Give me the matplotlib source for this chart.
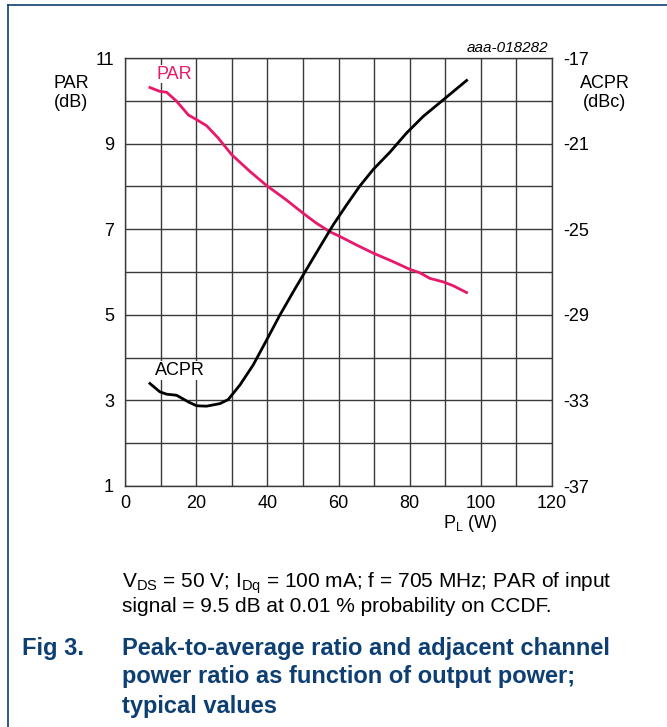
import matplotlib
matplotlib.use("Agg")
import matplotlib.pyplot as plt
from matplotlib.lines import Line2D

plt.rcParams['font.family'] = ['Liberation Sans', 'DejaVu Sans']
plt.rcParams['mathtext.fontset'] = 'custom'
plt.rcParams['mathtext.rm'] = 'Liberation Sans'
plt.rcParams['mathtext.it'] = 'Liberation Sans:italic'
plt.rcParams['mathtext.bf'] = 'Liberation Sans:bold'

# Data
par_x = [7.0, 9.8, 11.7, 14.5, 17.8, 20.1, 22.9, 26.2, 30.0, 35.1, 39.8, 45.4,
         50.1, 53.8, 57.6, 60.4, 65.1, 69.8, 75.4, 80.1, 82.9, 85.7, 89.4, 92.2, 96.0]
par_y = [10.31, 10.22, 10.20, 9.99, 9.67, 9.56, 9.42, 9.13, 8.74, 8.35, 8.02, 7.68,
         7.37, 7.14, 6.94, 6.83, 6.63, 6.44, 6.24, 6.06, 5.98, 5.85, 5.77, 5.68, 5.52]
acpr_x = [7.0, 9.8, 11.7, 14.5, 17.8, 20.1, 22.9, 26.7, 29.0, 32.3, 36.0, 39.8, 43.5,
          47.3, 51.0, 54.8, 58.5, 62.3, 66.0, 69.8, 74.4, 79.1, 83.8, 89.4, 96.0]
acpr_y = [-32.21, -32.60, -32.71, -32.76, -33.07, -33.25, -33.27, -33.15, -32.96, -32.28,
          -31.35, -30.18, -29.02, -27.92, -26.88, -25.82, -24.80, -23.86, -22.98, -22.20,
          -21.41, -20.51, -19.73, -18.96, -18.05]
x_ticks = [0, 20, 40, 60, 80, 100, 120]
left_ticks = [1, 3, 5, 7, 9, 11]
right_ticks = [-37, -33, -29, -25, -21, -17]

PINK = '#e8196b'
BLUE = '#0d3f73'
GRID = '#3a3a3a'
FS = 13

fig = plt.figure(figsize=(6.67, 7.27), dpi=100)
W, H = 667, 727
ax = fig.add_axes([125 / W, (H - 486) / H, 427 / W, 428 / H])
ax.set_xlim(0, 120)
ax.set_ylim(1, 11)
ax.set_xticks(range(0, 121, 10))
ax.set_yticks(range(1, 12))
ax.grid(True, color=GRID, linewidth=1.0)
ax.set_xticklabels([str(v) if v in x_ticks else '' for v in range(0, 121, 10)], fontsize=FS)
ax.set_yticklabels([str(v) if v in left_ticks else '' for v in range(1, 12)], fontsize=FS)
ax.tick_params(axis='y', length=0, pad=8)
ax.tick_params(axis='x', length=0, pad=6.5)
for s in ax.spines.values():
    s.set_color(GRID)
    s.set_linewidth(1.0)

ax.plot(par_x, par_y, color=PINK, linewidth=2.0, zorder=3)

ax2 = ax.twinx()
ax2.set_ylim(-37, -17)
ax2.set_yticks(right_ticks)
ax2.set_yticklabels([str(v) for v in right_ticks], fontsize=FS)
ax2.tick_params(length=0, pad=8)
for s in ax2.spines.values():
    s.set_visible(False)
ax2.plot(acpr_x, acpr_y, color='black', linewidth=2.0, zorder=3)

# Curve labels
ax.text(8.8, 10.62, 'PAR', color=PINK, fontsize=FS, ha='left', va='center', zorder=5,
        bbox=dict(facecolor='white', edgecolor='none', pad=0.5))
ax.text(8.5, 3.7, 'ACPR', color='black', fontsize=FS, ha='left', va='center', zorder=5,
        bbox=dict(facecolor='white', edgecolor='none', pad=0.5))

# Axis titles
fig.text(71 / W, 1 - 93 / H, 'PAR\n(dB)', fontsize=FS, ha='center', va='center', linespacing=1.2)
fig.text(605 / W, 1 - 93 / H, 'ACPR\n(dBc)', fontsize=FS, ha='center', va='center', linespacing=1.2)
fig.text(470 / W, 1 - 523 / H, r'P$_{\mathrm{L}}$ (W)', fontsize=FS, ha='center', va='center')
fig.text(548 / W, 1 - 48 / H, 'aaa-018282', fontsize=11, style='italic', ha='right', va='center')

# Caption
fig.text(122 / W, 1 - 583 / H,
         r'V$_{\mathrm{DS}}$ = 50 V; I$_{\mathrm{Dq}}$ = 100 mA; f = 705 MHz; PAR of input',
         fontsize=15, ha='left', va='center')
fig.text(122 / W, 1 - 606 / H, 'signal = 9.5 dB at 0.01 % probability on CCDF.',
         fontsize=15, ha='left', va='center')
fig.text(22 / W, 1 - 648 / H, 'Fig 3.', fontsize=17, fontweight='bold', color=BLUE,
         ha='left', va='center')
for i, line in enumerate(['Peak-to-average ratio and adjacent channel',
                          'power ratio as function of output power;',
                          'typical values']):
    fig.text(122 / W, 1 - (648 + i * 29) / H, line, fontsize=17, fontweight='bold',
             color=BLUE, ha='left', va='center')

# Border
fig.add_artist(Line2D([8 / W, 8 / W], [0, 1 - 5 / H], transform=fig.transFigure,
                      color=BLUE, linewidth=1.2))
fig.add_artist(Line2D([8 / W, 1], [1 - 5 / H, 1 - 5 / H], transform=fig.transFigure,
                      color=BLUE, linewidth=1.2))

fig.savefig('out.png', dpi=100)
